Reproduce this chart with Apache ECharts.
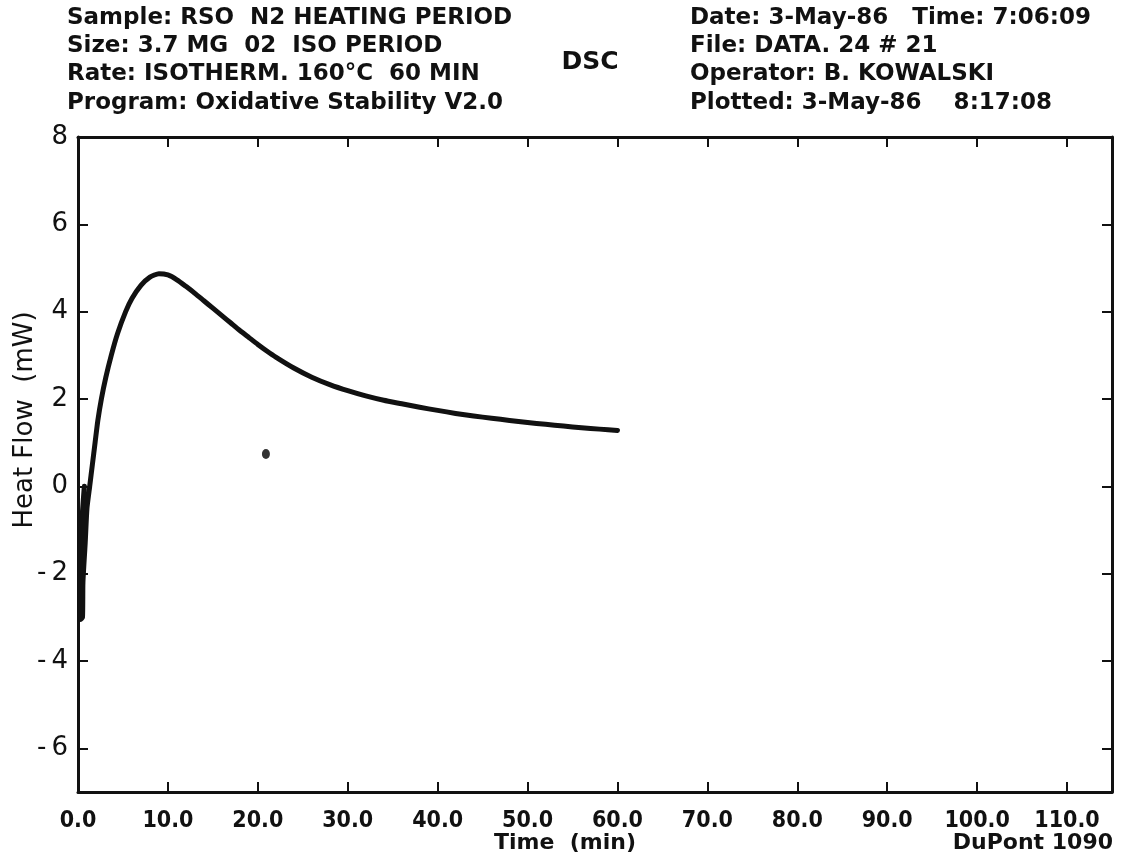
<!DOCTYPE html>
<html>
<head>
<meta charset="utf-8">
<script src="https://cdn.jsdelivr.net/npm/echarts@6/dist/echarts.min.js"></script>
<style>html,body{margin:0;padding:0;background:#fff;}#chart{width:1124px;height:857px;}</style>
</head>
<body>
<div id="chart"></div>
<script>
// ---- data ----
var xTicks = [0, 10, 20, 30, 40, 50, 60, 70, 80, 90, 100, 110];
var yTicks = [-6, -4, -2, 0, 2, 4, 6, 8];
var timeMin = [0.7, 0.25, 0.3, 0.5, 0.55, 0.8, 1.0, 1.3, 1.6, 1.9, 2.2, 2.6, 3.1, 3.7, 4.4, 5.3, 6.0, 7.0, 8.0, 9.0, 10.0, 11.0, 12.0, 13.0, 14.0, 15.0, 16.0, 17.0, 18.0, 19.0, 20.0, 21.0, 22.0, 24.0, 26.0, 28.0, 30.0, 32.0, 34.0, 36.0, 38.0, 40.0, 42.0, 44.0, 46.0, 48.0, 50.0, 52.0, 54.0, 56.0, 58.0, 60.0];
var heatFlow = [0.0, -1.55, -3.05, -3.0, -2.2, -1.3, -0.5, 0.0, 0.5, 1.0, 1.5, 2.0, 2.5, 3.0, 3.5, 4.0, 4.3, 4.6, 4.79, 4.87, 4.84, 4.73, 4.58, 4.42, 4.25, 4.08, 3.91, 3.74, 3.57, 3.41, 3.25, 3.1, 2.96, 2.71, 2.5, 2.33, 2.19, 2.07, 1.97, 1.89, 1.81, 1.74, 1.67, 1.61, 1.56, 1.51, 1.46, 1.42, 1.38, 1.34, 1.31, 1.28];
var dotTime = [20.9];
var dotFlow = [0.74];
var headerLeft = ['Sample: RSO  N2 HEATING PERIOD', 'Size: 3.7 MG  02  ISO PERIOD', 'Rate: ISOTHERM. 160\u00B0C  60 MIN', 'Program: Oxidative Stability V2.0'];
var headerRight = ['Date: 3-May-86   Time: 7:06:09', 'File: DATA. 24 # 21', 'Operator: B. KOWALSKI', 'Plotted: 3-May-86    8:17:08'];

var FONT = "'DejaVu Sans', sans-serif";
var FONTC = "'DejaVu Sans Condensed', 'DejaVu Sans', sans-serif";
var line = [];
for (var i = 0; i < timeMin.length; i++) line.push([timeMin[i], heatFlow[i]]);
var dots = dotTime.map(function (t, i) { return [t, dotFlow[i]]; });

var graphics = [];
var rowY = [18, 46, 74, 103];
headerLeft.forEach(function (s, i) {
  graphics.push({type: 'text', x: 67, y: rowY[i], style: {text: s, font: 'bold 23px ' + FONT, fill: '#111', verticalAlign: 'middle'}});
});
headerRight.forEach(function (s, i) {
  graphics.push({type: 'text', x: 690, y: rowY[i], style: {text: s, font: 'bold 23px ' + FONT, fill: '#111', verticalAlign: 'middle'}});
});
graphics.push({type: 'text', x: 590, y: 62, style: {text: 'DSC', font: 'bold 25px ' + FONT, fill: '#111', align: 'center', verticalAlign: 'middle'}});
graphics.push({type: 'text', x: 565, y: 843, style: {text: 'Time  (min)', font: 'bold 22px ' + FONT, fill: '#111', align: 'center', verticalAlign: 'middle'}});
graphics.push({type: 'text', x: 1113, y: 843, style: {text: 'DuPont 1090', font: 'bold 22px ' + FONT, fill: '#111', align: 'right', verticalAlign: 'middle'}});
graphics.push({type: 'text', x: 25, y: 420, rotation: Math.PI / 2, style: {text: 'Heat Flow  (mW)', font: '26px ' + FONT, fill: '#111', align: 'center', verticalAlign: 'middle'}});

var chart = echarts.init(document.getElementById('chart'), null, {renderer: 'canvas'});
var axisLineStyle = {color: '#111', width: 3};
chart.setOption({
  backgroundColor: '#fff',
  animation: false,
  grid: {left: 78, right: 12, top: 137, bottom: 65, containLabel: false, outerBoundsMode: 'none'},
  graphic: graphics,
  xAxis: [{
    type: 'value', position: 'bottom', min: 0, max: 115, interval: 10,
    axisLine: {show: true, onZero: false, lineStyle: axisLineStyle},
    axisTick: {show: true, inside: true, length: 10, lineStyle: {color: '#111', width: 2}, customValues: xTicks},
    axisLabel: {show: true, margin: 18, fontFamily: FONTC, fontWeight: 'bold', fontSize: 23, color: '#111',
      customValues: xTicks, formatter: function (v) { return v.toFixed(1); }},
    splitLine: {show: false}
  }, {
    type: 'value', position: 'top', min: 0, max: 115, interval: 10,
    axisLine: {show: true, onZero: false, lineStyle: axisLineStyle},
    axisTick: {show: true, inside: true, length: 10, lineStyle: {color: '#111', width: 2}, customValues: xTicks},
    axisLabel: {show: false},
    splitLine: {show: false}
  }],
  yAxis: [{
    type: 'value', position: 'left', min: -7, max: 8,
    axisLine: {show: true, onZero: false, lineStyle: axisLineStyle},
    axisTick: {show: true, inside: true, length: 10, lineStyle: {color: '#111', width: 2}, customValues: yTicks},
    axisLabel: {show: true, margin: 10, fontFamily: FONT, fontSize: 26, color: '#111',
      customValues: yTicks, formatter: function (v) { return v < 0 ? '-\u2009' + Math.abs(v) : String(v); }},
    splitLine: {show: false}
  }, {
    type: 'value', position: 'right', min: -7, max: 8,
    axisLine: {show: true, onZero: false, lineStyle: axisLineStyle},
    axisTick: {show: true, inside: true, length: 10, lineStyle: {color: '#111', width: 2}, customValues: yTicks.slice(0, 7)},
    axisLabel: {show: false},
    splitLine: {show: false}
  }],
  series: [{
    type: 'line', xAxisIndex: 0, yAxisIndex: 0, data: line, smooth: 0.2,
    showSymbol: false, lineStyle: {color: '#111', width: 5, cap: 'round', join: 'round'}
  }, {
    type: 'scatter', xAxisIndex: 0, yAxisIndex: 0, data: dots, symbol: 'circle', symbolSize: [8, 10],
    itemStyle: {color: '#000'}
  }]
});
</script>
</body>
</html>
